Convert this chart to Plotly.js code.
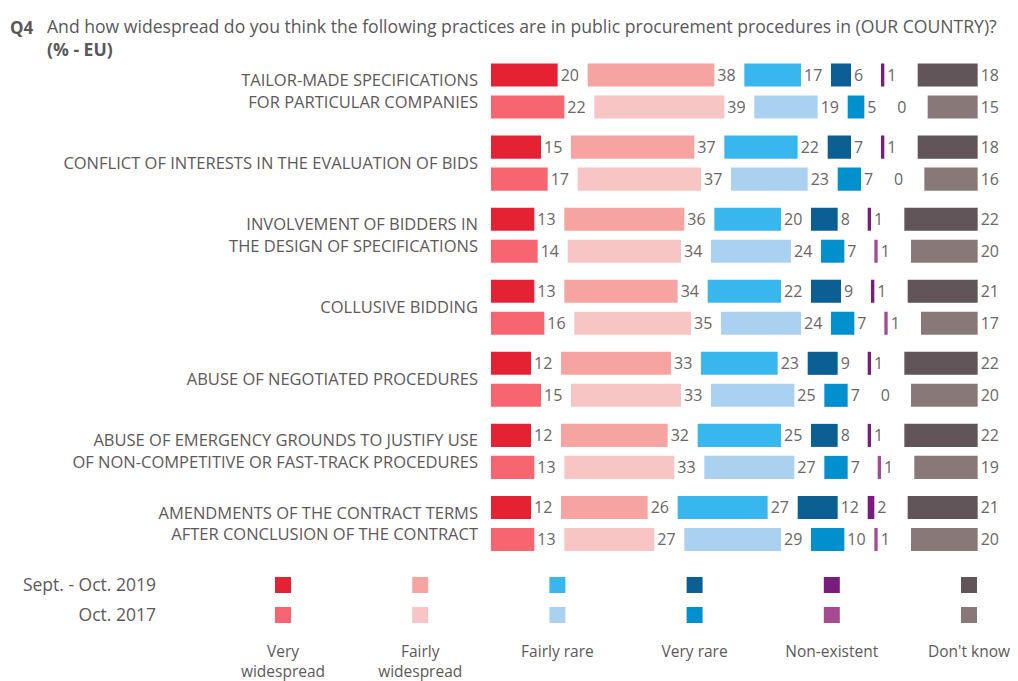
<!DOCTYPE html>
<html>
<head>
<meta charset="utf-8">
<script src="https://cdn.plot.ly/plotly-3.0.1.min.js"></script>
<style>html,body{margin:0;padding:0;background:#fff;}#chart{width:1018px;height:681px;}</style>
</head>
<body>
<div id="chart"></div>
<script>
// ---------- DATA ----------
const categories = [
  'TAILOR-MADE SPECIFICATIONS<br>FOR PARTICULAR COMPANIES',
  'CONFLICT OF INTERESTS IN THE EVALUATION OF BIDS',
  'INVOLVEMENT OF BIDDERS IN<br>THE DESIGN OF SPECIFICATIONS',
  'COLLUSIVE BIDDING',
  'ABUSE OF NEGOTIATED PROCEDURES',
  'ABUSE OF EMERGENCY GROUNDS TO JUSTIFY USE<br>OF NON-COMPETITIVE OR FAST-TRACK PROCEDURES',
  'AMENDMENTS OF THE CONTRACT TERMS<br>AFTER CONCLUSION OF THE CONTRACT'
];
const periods = ['Sept. - Oct. 2019', 'Oct. 2017'];
const answers = ['Very widespread', 'Fairly widespread', 'Fairly rare', 'Very rare', 'Non-existent', "Don't know"];
const answerLabels = ['Very<br>widespread', 'Fairly<br>widespread', 'Fairly rare', 'Very rare', 'Non-existent', "Don't know"];

const veryWidespread2019   = [20, 15, 13, 13, 12, 12, 12];
const fairlyWidespread2019 = [38, 37, 36, 34, 33, 32, 26];
const fairlyRare2019       = [17, 22, 20, 22, 23, 25, 27];
const veryRare2019         = [6, 7, 8, 9, 9, 8, 12];
const nonExistent2019      = [1, 1, 1, 1, 1, 1, 2];
const dontKnow2019         = [18, 18, 22, 21, 22, 22, 21];

const veryWidespread2017   = [22, 17, 14, 16, 15, 13, 13];
const fairlyWidespread2017 = [39, 37, 34, 35, 33, 33, 27];
const fairlyRare2017       = [19, 23, 24, 24, 25, 27, 29];
const veryRare2017         = [5, 7, 7, 7, 7, 7, 10];
const nonExistent2017      = [0, 0, 1, 1, 0, 1, 1];
const dontKnow2017         = [15, 16, 20, 17, 20, 19, 20];

// ---------- STYLE ----------
const colors2019 = ['#E42233', '#F5A4A1', '#38B7EE', '#0C5F92', '#7A1C7D', '#615559'];
const colors2017 = ['#F76670', '#F7C5C3', '#AAD2F0', '#0090CD', '#A64B91', '#887878'];
const GAP = 9;          // gap (in % units) left for the value label
const DK_END = 146;     // right edge of the "Don't know" column
const FONT = 'Open Sans, sans-serif';
const TXT = '#6b6567';
const LBL = '#5e585a';

// pixel helpers for the figure (plot area: x 165..1011, y 55..636)
const L = 165, R = 7, T = 55, B = 45, W = 1018, H = 681;
const PW = W - L - R, PH = H - T - B;
const px2x = p => (p - L) / PW;
const py2y = p => (H - B - p) / PH;

function buildTraces(seriesList, colors, period, offset) {
  const traces = [];
  const running = categories.map(() => 0);
  seriesList.forEach((vals, k) => {
    let base;
    if (k < seriesList.length - 1) {
      base = running.slice();
      vals.forEach((v, i) => { running[i] += v + GAP; });
    } else {
      base = vals.map(v => DK_END - v);
    }
    traces.push({
      type: 'bar', orientation: 'h',
      y: categories, x: vals, base: base,
      name: answers[k] + ' ' + period,
      marker: {color: colors[k], line: {width: 0}},
      width: 0.32, offset: offset,
      text: vals.map(String), textposition: 'outside',
      constraintext: 'none', cliponaxis: false,
      textfont: {family: FONT, size: 16, color: TXT},
      outsidetextfont: {family: FONT, size: 16, color: TXT},
      hoverinfo: 'skip', showlegend: false,
      xaxis: 'x', yaxis: 'y'
    });
  });
  return traces;
}

const traces = [].concat(
  buildTraces([veryWidespread2019, fairlyWidespread2019, fairlyRare2019, veryRare2019, nonExistent2019, dontKnow2019], colors2019, periods[0], -0.382),
  buildTraces([veryWidespread2017, fairlyWidespread2017, fairlyRare2017, veryRare2017, nonExistent2017, dontKnow2017], colors2017, periods[1], 0.062)
);

// legend swatches
[colors2019, colors2017].forEach((cols, r) => {
  traces.push({
    type: 'scatter', mode: 'markers',
    x: answers.map((a, i) => i), y: answers.map(() => r),
    marker: {symbol: 'square', size: 16, color: cols, line: {width: 0}},
    hoverinfo: 'skip', showlegend: false,
    xaxis: 'x2', yaxis: 'y2'
  });
});

const mainBottom = 559.5;
const layout = {
  width: W, height: H,
  margin: {l: L, r: R, t: T, b: B, pad: 0},
  paper_bgcolor: '#ffffff', plot_bgcolor: 'rgba(0,0,0,0)',
  barmode: 'overlay',
  showlegend: false,
  font: {family: FONT, color: TXT},
  xaxis: {
    domain: [px2x(491), 1], range: [0, 156],
    showgrid: false, zeroline: false, showline: false, showticklabels: false, ticks: '',
    fixedrange: true
  },
  yaxis: {
    domain: [py2y(mainBottom), 1],
    type: 'category', categoryorder: 'array', categoryarray: categories,
    autorange: 'reversed',
    showgrid: false, zeroline: false, showline: false, ticks: '',
    ticklabelstandoff: 12,
    tickfont: {family: FONT, size: 16.5, color: LBL},
    fixedrange: true
  },
  xaxis2: {
    anchor: 'y2', domain: [0, 1],
    range: [-0.86, 5.306],
    tickvals: answers.map((a, i) => i), ticktext: answerLabels,
    showgrid: false, zeroline: false, showline: false, ticks: '',
    ticklabelstandoff: 4,
    tickfont: {family: FONT, size: 15.5, color: LBL},
    fixedrange: true
  },
  yaxis2: {
    anchor: 'x2', domain: [0, py2y(565)],
    range: [1.7, -0.6667],
    tickvals: [0, 1], ticktext: periods,
    showgrid: false, zeroline: false, showline: false, ticks: '',
    ticklabelstandoff: 8,
    tickfont: {family: FONT, size: 17.5, color: LBL},
    fixedrange: true
  },
  annotations: [
    {xref: 'paper', yref: 'paper', x: px2x(8), y: py2y(27), xanchor: 'left', yanchor: 'middle',
     text: '<b>Q4</b>', showarrow: false, font: {family: FONT, size: 17, color: '#58585a'}},
    {xref: 'paper', yref: 'paper', x: px2x(45), y: py2y(38), xanchor: 'left', yanchor: 'middle',
     align: 'left',
     text: 'And how widespread do you think the following practices are in public procurement procedures in (OUR COUNTRY)?<br><b>(% - EU)</b>',
     showarrow: false, font: {family: FONT, size: 17.6, color: '#58585a'}}
  ]
};

Plotly.newPlot('chart', traces, layout, {displayModeBar: false, staticPlot: true});
</script>
</body>
</html>
